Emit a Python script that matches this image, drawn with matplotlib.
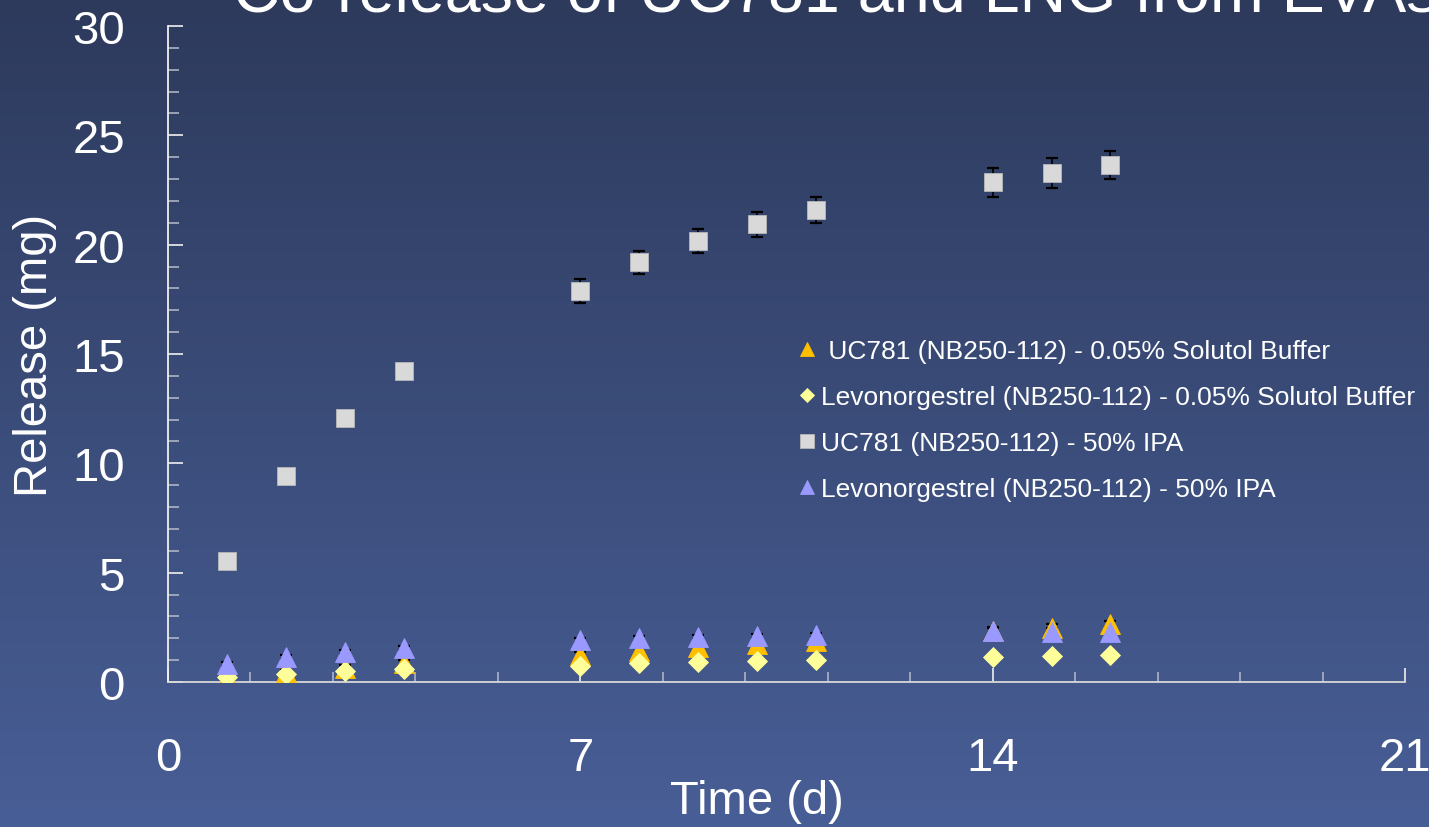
import numpy as np
import matplotlib
matplotlib.use("Agg")
import matplotlib.pyplot as plt
from matplotlib.ticker import MultipleLocator

plt.rcParams["font.family"] = ["Liberation Sans", "DejaVu Sans"]

days = [1, 2, 3, 4, 7, 8, 9, 10, 11, 14, 15, 16]

uc781Solutol = [0.20, 0.45, 0.62, 0.85, 1.22, 1.42, 1.60, 1.74, 1.87, 2.32, 2.49, 2.65]
uc781SolutolErr = [0.10, 0.10, 0.15, 0.15, 0.15, 0.15, 0.15, 0.15, 0.15, 0.15, 0.15, 0.15]

lngSolutol = [0.25, 0.37, 0.50, 0.60, 0.75, 0.87, 0.91, 0.98, 1.00, 1.14, 1.19, 1.23]
lngSolutolErr = [0.05] * 12

uc781Ipa = [5.53, 9.42, 12.07, 14.22, 17.88, 19.20, 20.16, 20.94, 21.58, 22.86, 23.27, 23.64]
uc781IpaErr = [0.10, 0.10, 0.10, 0.10, 0.57, 0.53, 0.55, 0.57, 0.60, 0.66, 0.68, 0.64]

lngIpa = [0.82, 1.14, 1.37, 1.55, 1.90, 1.99, 2.06, 2.10, 2.15, 2.31, 2.29, 2.29]
lngIpaErr = [0.10, 0.10, 0.10, 0.10, 0.10, 0.10, 0.10, 0.10, 0.10, 0.20, 0.20, 0.20]

seriesLabels = [
    " UC781 (NB250-112) - 0.05% Solutol Buffer",
    "Levonorgestrel (NB250-112) - 0.05% Solutol Buffer",
    "UC781 (NB250-112) - 50% IPA",
    "Levonorgestrel (NB250-112) - 50% IPA",
]

xTicks = [0, 7, 14, 21]
yTicks = [0, 5, 10, 15, 20, 25, 30]

titleText = "Co-release of UC781 and LNG from EVAs"


def drawBackground(fig):
    # vertical navy gradient behind everything
    top = np.array([45, 58, 92]) / 255.0
    bottom = np.array([72, 94, 150]) / 255.0
    t = np.linspace(0, 1, 256)[:, None]
    grad = top[None, :] * (1 - t) + bottom[None, :] * t
    img = np.repeat(grad[:, None, :], 4, axis=1)
    bgAx = fig.add_axes([0, 0, 1, 1], zorder=-10)
    bgAx.imshow(img, aspect="auto", extent=[0, 1, 0, 1])
    bgAx.axis("off")


def main():
    fig = plt.figure(figsize=(14.29, 8.28), dpi=100)
    drawBackground(fig)

    ax = fig.add_axes([168 / 1429, 1 - 683 / 828, 1237 / 1429, 656 / 828])
    ax.set_facecolor("none")

    series = [
        (uc781Solutol, uc781SolutolErr, "^", "#FFC000", "#FFC000", 14.5),
        (lngSolutol, lngSolutolErr, "D", "#FFFF99", "#FFFF99", 10.0),
        (uc781Ipa, uc781IpaErr, "s", "#D9D9D9", "#B8B8B8", 13.5),
        (lngIpa, lngIpaErr, "^", "#9999FF", "#9999FF", 14.5),
    ]

    for vals, errs, _, _, _, _ in series:
        ax.errorbar(days, vals, yerr=errs, fmt="none", ecolor="black",
                    elinewidth=1.2, capsize=4, capthick=1.6, zorder=2)

    handles = []
    for (vals, errs, marker, color, edge, size), label in zip(series, seriesLabels):
        line, = ax.plot(days, vals, linestyle="none", marker=marker, color=color,
                        markeredgecolor=edge, markeredgewidth=0.6,
                        markersize=size, label=label, zorder=3)
        handles.append(line)

    ax.set_xlim(0, 21)
    ax.set_ylim(0, 30)
    ax.set_xticks(xTicks)
    ax.set_yticks(yTicks)
    ax.xaxis.set_minor_locator(MultipleLocator(1.4))
    ax.yaxis.set_minor_locator(MultipleLocator(1))

    for side in ["top", "right"]:
        ax.spines[side].set_visible(False)
    ax.spines["left"].set_color("#F0F0F0")
    ax.spines["bottom"].set_color("#D8D8D8")
    ax.spines["left"].set_linewidth(1.3)
    ax.spines["bottom"].set_linewidth(1.3)

    ax.tick_params(axis="y", which="major", direction="in", length=10.5, width=1.2,
                   color="#F0F0F0", labelsize=34, labelcolor="white", pad=31)
    ax.tick_params(axis="y", which="minor", direction="in", length=8, width=1.1,
                   color="#B8BCCC")
    ax.tick_params(axis="x", which="major", direction="in", length=10, width=1.2,
                   color="#F0F0F0", labelsize=34, labelcolor="white", pad=39)
    ax.tick_params(axis="x", which="minor", direction="in", length=7.5, width=1.1,
                   color="#B8BCCC")

    fig.text(35 / 1429, 1 - 355 / 828, "Release (mg)", rotation=90, ha="center",
             va="center", fontsize=34, color="white")
    fig.text(757 / 1429, 1 - 802 / 828, "Time (d)", ha="center", va="center",
             fontsize=34, color="white")
    fig.text(233 / 1429, 1 - 12 / 828, titleText, ha="left", va="baseline",
             fontsize=46.5, color="white")

    fig.legend(handles=handles, loc="upper left",
               bbox_to_anchor=(797 / 1429, 1 - 340 / 828),
               frameon=False, fontsize=19, labelcolor="white",
               handlelength=0.75, handletextpad=0.15, labelspacing=0.84,
               borderpad=0, borderaxespad=0, markerscale=0.72)

    fig.savefig("out.png", dpi=100)
    plt.close(fig)


if __name__ == "__main__":
    main()
